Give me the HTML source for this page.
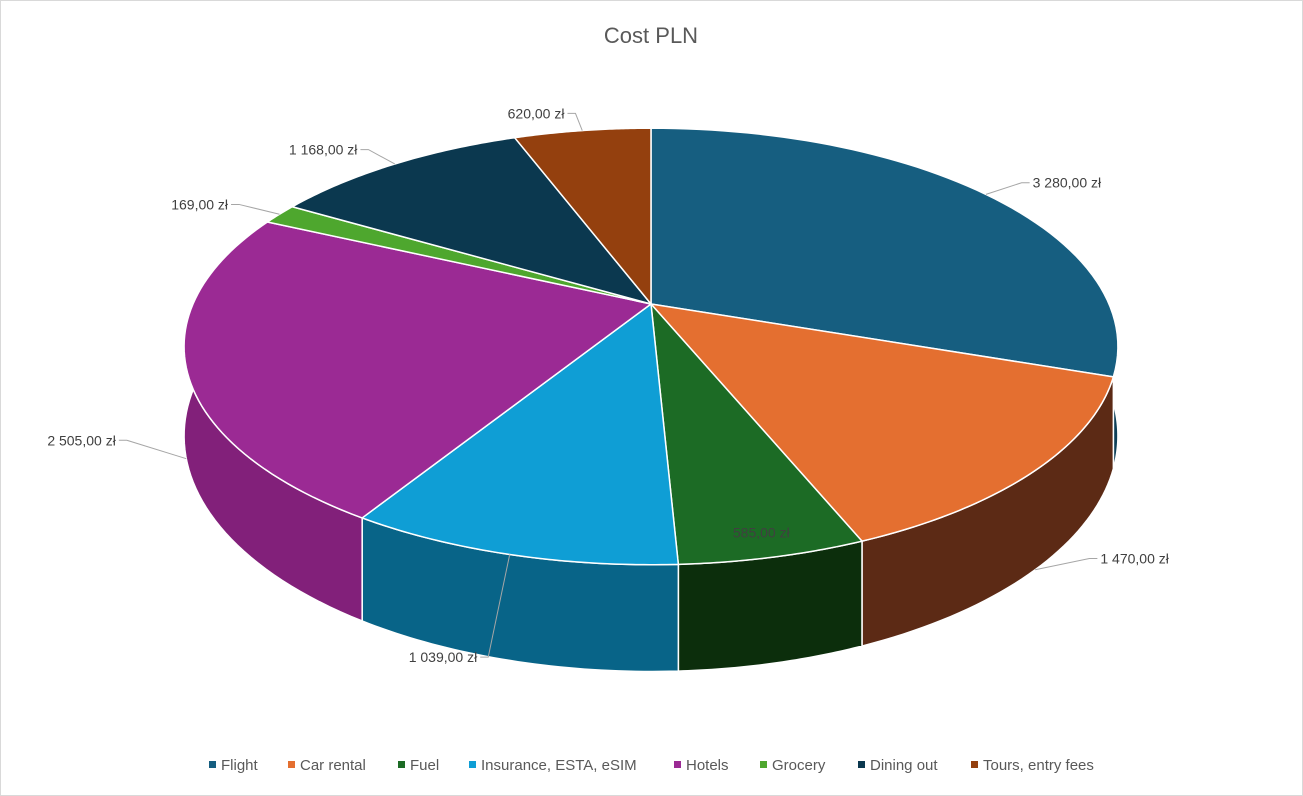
<!DOCTYPE html>
<html><head><meta charset="utf-8"><style>
body{margin:0;background:#fff;}
#wrap{position:relative;width:1303px;height:796px;overflow:hidden;}
svg{position:absolute;left:0;top:0;}
text{font-family:"Liberation Sans",sans-serif;}
</style></head><body>
<div id="wrap">
<svg id="chart" width="1303" height="796">
<rect x="0.5" y="0.5" width="1302" height="795" fill="#fff" stroke="#d9d9d9"/>
<text x="651" y="43" text-anchor="middle" font-size="22" fill="#595959">Cost PLN</text>
<g id="sides"></g><g id="tops"></g><g id="labels"></g><g id="legend"></g>
</svg>
</div>
<script>
const categories=["Flight","Car rental","Fuel","Insurance, ESTA, eSIM","Hotels","Grocery","Dining out","Tours, entry fees"];
const values=[3280,1470,585,1039,2505,169,1168,620];
const topColors=["#165e80","#e46f30","#1c6b25","#0f9ed5","#9b2a94","#4ea72e","#0b384f","#94400e"];
const sideColors=["#0e3f57","#5c2a15","#0c2e0c","#086488","#82207a","#2f6a1b","#072433","#5e280a"];
const legendX=[209,288,398,469,674,760,858,971];
const NS="http://www.w3.org/2000/svg";
const cx=651,cy=304,R=458,K=210,A=0.1945,D=86;
function pt(deg,f,down){const t=deg*Math.PI/180;const X=Math.sin(t)*f,Z=Math.cos(t)*f;const s=1/(1+A*Z);
 return [cx+R*X*s, cy-K*Z*s+(down?D*s:0)];}
function fmt(v){const p=v.toFixed(2).split('.');return p[0].replace(/\B(?=(\d{3})+(?!\d))/g,' ')+','+p[1]+' zł';}
const total=values.reduce((a,b)=>a+b,0);
const sides=document.getElementById('sides'),tops=document.getElementById('tops'),labels=document.getElementById('labels'),legend=document.getElementById('legend');
let acc=0;
values.forEach((v,i)=>{
 const a=acc/total*360,b=(acc+v)/total*360;acc+=v;
 // side wall
 const sa=Math.max(a,88),sb=Math.min(b,272);
 if(sb>sa){let top=[],bot=[];for(let d=sa;d<=sb+0.001;d+=(sb-sa)/40){top.push(pt(d,1,false));bot.push(pt(d,1,true));}
  const pts=top.concat(bot.reverse()).map(p=>p.join(',')).join(' ');
  const s=document.createElementNS(NS,'polygon');s.setAttribute('points',pts);s.setAttribute('fill',sideColors[i]);s.setAttribute('stroke','#fff');s.setAttribute('stroke-width','1.5');
  
  
  sides.appendChild(s);}
 let pts=[[cx,cy]];for(let k=0;k<=60;k++){pts.push(pt(a+(b-a)*k/60,1,false));}
 const p=document.createElementNS(NS,'polygon');p.setAttribute('points',pts.map(q=>q.join(',')).join(' '));
 p.setAttribute('fill',topColors[i]);p.setAttribute('stroke','#fff');p.setAttribute('stroke-width','1.5');
 
 
 tops.appendChild(p);
 // label
 const m=(a+b)/2;const inside=(b-a)<25&&m>150&&m<210;
 const t=document.createElementNS(NS,'text');t.textContent=fmt(v);t.setAttribute('font-size','14');t.setAttribute('fill','#404040');
 
 
 if(inside){const q=pt(m,0.92,false);t.setAttribute('x',q[0]);t.setAttribute('y',q[1]+5);t.setAttribute('text-anchor','middle');}
 else{
  const front=Math.cos(m*Math.PI/180)<0;
  const e=pt(m,1,front&&Math.abs(Math.sin(m*Math.PI/180))>0.3);
  const q=pt(m,1.12,false);if(front)q[1]+=D*0.75;
  const right=Math.sin(m*Math.PI/180)>=0;
  const l=document.createElementNS(NS,'polyline');const hx=q[0]+(right?8:-8);
  l.setAttribute('points',[e,q,[hx,q[1]]].map(z=>z.join(',')).join(' '));l.setAttribute('fill','none');l.setAttribute('stroke','#a6a6a6');
  
  
  labels.appendChild(l);
  t.setAttribute('x',hx+(right?3:-3));t.setAttribute('y',q[1]+5);t.setAttribute('text-anchor',right?'start':'end');}
 labels.appendChild(t);
 // legend
 const r=document.createElementNS(NS,'rect');r.setAttribute('x',legendX[i]);r.setAttribute('y',761);r.setAttribute('width',7);r.setAttribute('height',7);r.setAttribute('fill',topColors[i]);
 
 
 legend.appendChild(r);
 const lt=document.createElementNS(NS,'text');lt.textContent=categories[i];lt.setAttribute('x',legendX[i]+12);lt.setAttribute('y',770);lt.setAttribute('font-size','15');lt.setAttribute('fill','#595959');
 
 
 legend.appendChild(lt);
});
</script>
</body></html>
